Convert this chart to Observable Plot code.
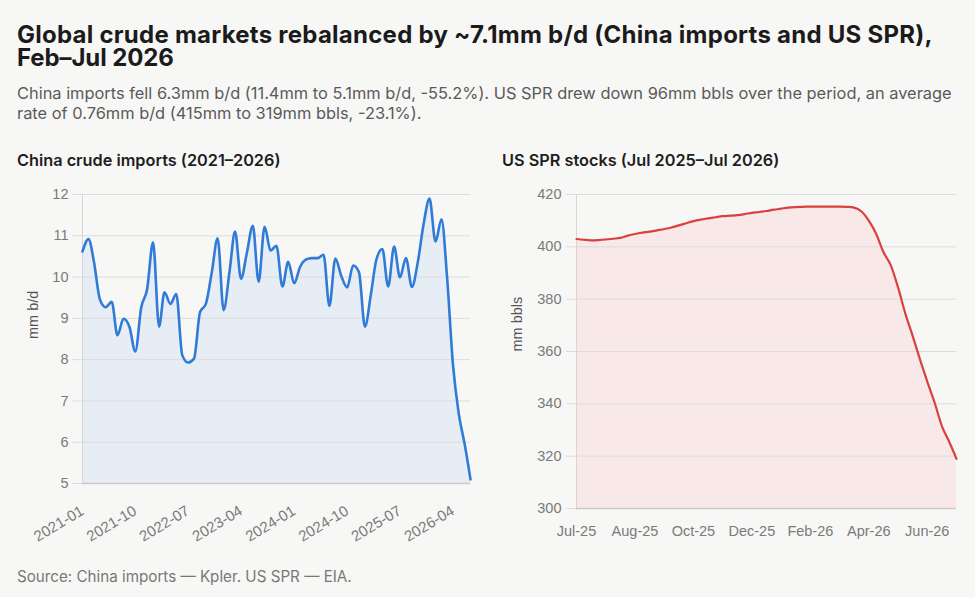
<!DOCTYPE html>
<html>
<head>
<meta charset="utf-8">
<script src="https://cdn.jsdelivr.net/npm/d3@7"></script>
<script src="https://cdn.jsdelivr.net/npm/@observablehq/plot@0.6"></script>
<style>
  html, body { margin: 0; padding: 0; background: #f7f7f6; }
  #page { position: relative; width: 975px; height: 597px; overflow: hidden; font-family: Inter, "Noto Sans", sans-serif; }
  .title { position: absolute; left: 17px; font-size: 24px; line-height: 23px; height: 23px; font-weight: 700; color: #1b1b1b; letter-spacing: 0.25px; white-space: nowrap; }
  .subtitle { position: absolute; left: 17px; top: 83px; font-size: 16.4px; line-height: 20px; color: #5a5a5a; white-space: nowrap; }
  .panel-title { position: absolute; top: 150px; font-size: 16.3px; line-height: 20px; font-weight: 600; color: #1e1e1e; white-space: nowrap; }
  .chart { position: absolute; top: 175px; }
  .caption { position: absolute; left: 17px; top: 567px; font-size: 15.2px; line-height: 20px; color: #777; white-space: nowrap; }
</style>
</head>
<body>
<div id="page">
  <div class="title" style="top:23px">Global crude markets rebalanced by ~7.1mm b/d (China imports and US SPR),</div>
  <div class="title" style="top:46px; letter-spacing:-0.1px">Feb–Jul 2026</div>
  <div class="subtitle">China imports fell 6.3mm b/d (11.4mm to 5.1mm b/d, -55.2%). US SPR drew down 96mm bbls over the period, an average<br>rate of 0.76mm b/d (415mm to 319mm bbls, -23.1%).</div>
  <div class="panel-title" style="left:17px">China crude imports (2021–2026)</div>
  <div class="panel-title" style="left:502px">US SPR stocks (Jul 2025–Jul 2026)</div>
  <div class="chart" id="left" style="left:0px"></div>
  <div class="chart" id="right" style="left:487px"></div>
  <div class="caption">Source: China imports — Kpler. US SPR — EIA.</div>
</div>
<script>
// China crude imports, monthly, mm b/d (Jan 2021 – Jul 2026)
const chinaStart = "2021-01";
const chinaImports = [
  10.62, 10.92, 10.38, 9.46, 9.27, 9.40, 8.59, 8.99, 8.79, 8.20, 9.27, 9.70,
  10.84, 8.80, 9.63, 9.35, 9.59, 8.11, 7.93, 8.03, 9.15, 9.35, 10.12, 10.94,
  9.20, 10.15, 11.10, 9.96, 10.58, 11.24, 9.89, 11.22, 10.64, 10.76, 9.77, 10.37,
  9.85, 10.25, 10.42, 10.46, 10.46, 10.54, 9.30, 10.45, 10.02, 9.75, 10.28, 10.12,
  8.80, 9.59, 10.42, 10.68, 9.77, 10.74, 9.99, 10.46, 9.76, 10.35, 11.30, 11.90,
  10.86, 11.40, 10.05, 7.90, 6.70, 5.95, 5.10
];
const chinaTickLabels = ["2021-01", "2021-10", "2022-07", "2023-04", "2024-01", "2024-10", "2025-07", "2026-04"];
const chinaYTicks = [5, 6, 7, 8, 9, 10, 11, 12];

// US SPR stocks, weekly, mm bbls (week ending 4 Jul 2025 – 3 Jul 2026)
const sprStart = "2025-07-04";
const sprStocks = [
  403.0, 402.7, 402.5, 402.6, 402.8, 403.1, 403.4, 404.3, 404.9, 405.4,
  405.8, 406.3, 406.8, 407.4, 408.2, 409.0, 409.8, 410.4, 410.9, 411.3,
  411.7, 411.9, 412.1, 412.5, 413.0, 413.3, 413.7, 414.2, 414.6, 415.0,
  415.2, 415.3, 415.4, 415.4, 415.4, 415.4, 415.4, 415.3, 415.0, 413.5,
  410.0, 405.0, 398.0, 393.0, 384.5, 374.5, 366.0, 357.0, 348.5, 340.5,
  331.5, 325.5, 319.0
];
const sprTickWeeks = [0, 8, 16, 24, 32, 40, 48];
const sprTickLabels = ["Jul-25", "Aug-25", "Oct-25", "Dec-25", "Feb-26", "Apr-26", "Jun-26"];
const sprYTicks = [300, 320, 340, 360, 380, 400, 420];

const parseMonth = d3.utcParse("%Y-%m");
const monthStart = parseMonth(chinaStart);
const china = chinaImports.map((v, i) => ({date: d3.utcMonth.offset(monthStart, i), value: v}));
const chinaTicks = chinaTickLabels.map(parseMonth);

const weekStart = d3.utcParse("%Y-%m-%d")(sprStart);
const spr = sprStocks.map((v, i) => ({date: d3.utcWeek.offset(weekStart, i), value: v}));
const sprTicks = sprTickWeeks.map(i => spr[i].date);

const common = {
  style: {background: "transparent", fontFamily: "'Liberation Sans', Arial, sans-serif", fontSize: "14.5px", color: "#7a7a7a", overflow: "visible"}
};

const left = Plot.plot({
  ...common,
  width: 487,
  height: 385,
  marginLeft: 82,
  marginRight: 17,
  marginTop: 19,
  marginBottom: 77,
  x: {type: "utc", domain: [china[0].date, china[china.length - 1].date]},
  y: {domain: [5, 12]},
  marks: [
    Plot.areaY(china, {x: "date", y1: 5, y2: "value", fill: "#e7edf5", curve: "monotone-x"}),
    Plot.gridY(chinaYTicks, {stroke: "#dcdcdc", strokeOpacity: 1}),
    Plot.ruleX([china[0].date], {stroke: "#d6d6d6"}),
    Plot.ruleY([5], {stroke: "#c9c9c9", strokeWidth: 1.5}),
    Plot.axisY(chinaYTicks, {tickSize: 10, tickPadding: 4, stroke: "#dcdcdc", fill: "#7a7a7a", label: null}),
    Plot.axisX(chinaTicks, {tickSize: 0, tickPadding: 26, tickRotate: -31, tickFormat: (d, i) => chinaTickLabels[i], fill: "#7a7a7a", fontSize: 15, label: null}),
    Plot.text(["mm b/d"], {frameAnchor: "left", dx: -49, rotate: -90, fill: "#555", fontSize: 14.5}),
    Plot.lineY(china, {x: "date", y: "value", stroke: "#2f7bd6", strokeWidth: 2.6, curve: "monotone-x"})
  ]
});
document.getElementById("left").append(left);

const right = Plot.plot({
  ...common,
  width: 488,
  height: 385,
  marginLeft: 89,
  marginRight: 19,
  marginTop: 19,
  marginBottom: 52,
  x: {type: "utc", domain: [spr[0].date, spr[spr.length - 1].date]},
  y: {domain: [300, 420]},
  marks: [
    Plot.areaY(spr, {x: "date", y1: 300, y2: "value", fill: "#f8e8e8", curve: "monotone-x"}),
    Plot.gridY(sprYTicks, {stroke: "#dcdcdc", strokeOpacity: 1}),
    Plot.ruleX([spr[0].date], {stroke: "#d6d6d6"}),
    Plot.ruleY([300], {stroke: "#c9c9c9", strokeWidth: 1.5}),
    Plot.axisY(sprYTicks, {tickSize: 10, tickPadding: 5, stroke: "#dcdcdc", fill: "#7a7a7a", label: null}),
    Plot.axisX(sprTicks, {tickSize: 0, tickPadding: 17, tickFormat: (d, i) => sprTickLabels[i], fill: "#7a7a7a", label: null}),
    Plot.text(["mm bbls"], {frameAnchor: "left", dx: -59, rotate: -90, fill: "#555", fontSize: 14.5}),
    Plot.lineY(spr, {x: "date", y: "value", stroke: "#d9413e", strokeWidth: 2.2, curve: "monotone-x"})
  ]
});
document.getElementById("right").append(right);
</script>
</body>
</html>
